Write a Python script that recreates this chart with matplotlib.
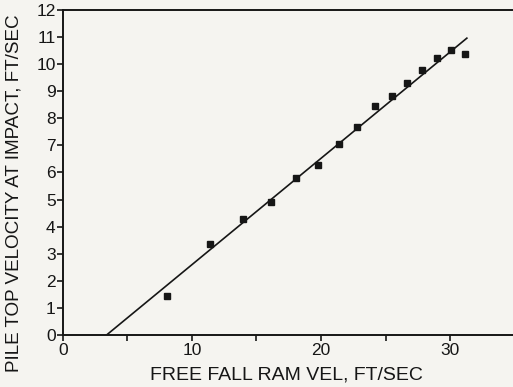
import numpy as np
import matplotlib
matplotlib.use("Agg")
import matplotlib.pyplot as plt

ram_vel = [8.05, 11.40, 13.93, 16.12, 18.06, 19.78, 21.39, 22.80, 24.17,
           25.51, 26.70, 27.86, 28.99, 30.11, 31.14]
pile_vel = [1.45, 3.35, 4.28, 4.92, 5.81, 6.28, 7.05, 7.67, 8.47,
            8.83, 9.29, 9.79, 10.22, 10.52, 10.37]

# fitted line end points
fit_x = [3.4, 31.3]
fit_y = [0.0, 10.96]

x_ticks = [0, 10, 20, 30]
x_minor = [5, 15, 25]
y_ticks = list(range(0, 13))

plt.rcParams['font.family'] = ['Liberation Sans', 'DejaVu Sans']

bg = '#f5f4f0'
ink = '#161616'
fig = plt.figure(figsize=(5.13, 3.87), dpi=100, facecolor=bg)
ax = fig.add_axes([0.1222, 0.1344, 0.881, 0.8398], facecolor=bg)

ax.plot(fit_x, fit_y, color=ink, linewidth=1.2)
ax.plot(ram_vel, pile_vel, linestyle='none', marker='s', markersize=4.6,
        color=ink)

ax.set_xlim(0, 35)
ax.set_ylim(0, 12)
ax.set_xticks(x_ticks)
ax.set_xticks(x_minor, minor=True)
ax.set_yticks(y_ticks)

for s in ax.spines.values():
    s.set_linewidth(1.4)
    s.set_color(ink)

ax.tick_params(axis='both', which='both', direction='out', length=4,
               width=1.2, color=ink, labelsize=12.5, labelcolor=ink)
ax.tick_params(axis='x', pad=2)
ax.tick_params(axis='y', pad=1)

ax.set_xlabel("FREE FALL RAM VEL, FT/SEC", fontsize=14, color=ink,
              va='center')
ax.set_ylabel("PILE TOP VELOCITY AT IMPACT, FT/SEC", fontsize=13.6,
              color=ink)
ax.xaxis.set_label_coords(0.495, -0.123)
ax.yaxis.set_label_coords(-0.09, 0.435)

fig.savefig("out.png", dpi=100, facecolor=bg)
